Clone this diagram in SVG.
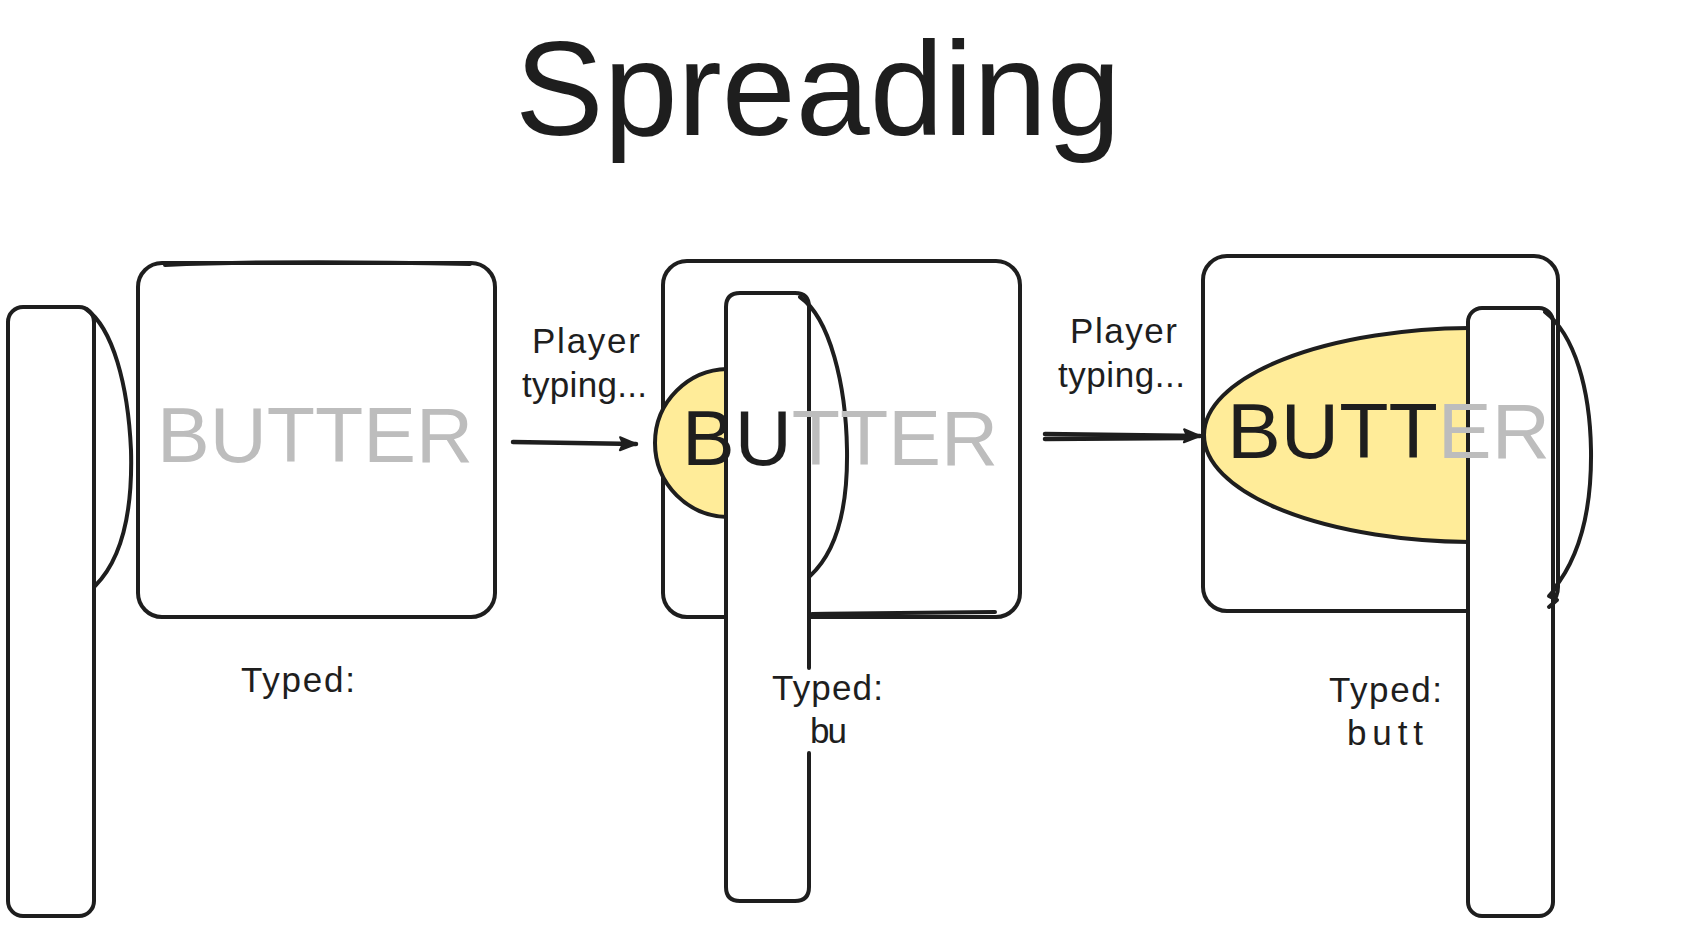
<svg xmlns="http://www.w3.org/2000/svg" width="1706" height="925" viewBox="0 0 1706 925">
  <defs>
    <style>
      .ink { fill: none; stroke: #1e1e1e; stroke-width: 4; stroke-linecap: round; stroke-linejoin: round; }
      .box { fill: #ffffff; stroke: #1e1e1e; stroke-width: 4; stroke-linejoin: round; }
      .paper { fill: #ffffff; stroke: none; }
      .spread { fill: #ffec99; stroke: #1e1e1e; stroke-width: 4; }
      .hand { font-family: "Liberation Sans", "DejaVu Sans", sans-serif; fill: #1e1e1e; }
      .word { font-family: "Liberation Sans", "DejaVu Sans", sans-serif; font-size: 77px; fill: #1e1e1e; }
      .grey { fill: #bdbdbd; }
      .lbl { font-size: 35px; }
      .arrow { fill: none; stroke: #1e1e1e; stroke-width: 4.5; stroke-linecap: round; }
    </style>
    <marker id="head" viewBox="0 0 20 16" markerWidth="20" markerHeight="16" refX="18" refY="8" orient="auto" markerUnits="userSpaceOnUse">
      <path d="M2,1.5 L18,8 L2,14.5 L5,8 Z" fill="#1e1e1e" stroke="#1e1e1e" stroke-width="2" stroke-linejoin="round"/>
    </marker>
    <clipPath id="clip2"><rect x="600" y="300" width="127" height="300"/></clipPath>
    <clipPath id="clip3"><rect x="1150" y="300" width="319" height="260"/></clipPath>
  </defs>

  <g id="title">
    <text class="hand" x="515" y="135" font-size="133" textLength="606" lengthAdjust="spacingAndGlyphs">Spreading</text>
  </g>

  <!-- Stage 1 -->
  <g id="knife-1">
    <rect class="box" x="8" y="307" width="86" height="609" rx="15"/>
    <path class="ink" d="M86,309 C113,328 128,385 131,450 C133,520 119,562 95,586"/>
  </g>
  <g id="square-1">
    <rect class="box" x="138" y="263" width="357" height="354" rx="24"/>
    <path class="ink" stroke-width="1.5" d="M165,265 C260,261 380,262 470,264"/>
  </g>
  <g id="word-1">
    <text class="word grey" x="157" y="462" textLength="316" lengthAdjust="spacingAndGlyphs">BUTTER</text>
  </g>
  <g id="typed-1">
    <text class="hand lbl" x="241" y="692" textLength="114" lengthAdjust="spacing">Typed:</text>
  </g>

  <!-- Stage 2 -->
  <g id="square-2">
    <rect class="box" x="663" y="261" width="357" height="356" rx="24"/>
    <path class="ink" stroke-width="1.5" d="M812,614 C880,613 950,613 995,612"/>
  </g>
  <g id="spread-2">
    <circle class="spread" cx="729" cy="443" r="74" clip-path="url(#clip2)"/>
  </g>
  <g id="knife-2">
    <rect class="paper" x="726" y="293" width="83" height="608" rx="14"/>
    <path class="ink" d="M809,668 V307 Q809,293 795,293 H740 Q726,293 726,307 V887 Q726,901 740,901 H795 Q809,901 809,887 V753"/>
    <path class="ink" d="M800,297 C830,318 846,385 847,450 C848,515 833,555 810,576"/>
  </g>
  <g id="word-2">
    <text class="word" x="682" y="465" textLength="316" lengthAdjust="spacingAndGlyphs">BU<tspan class="grey">TTER</tspan></text>
  </g>
  <g id="typed-2">
    <text class="hand lbl" x="772" y="700" textLength="111" lengthAdjust="spacing">Typed:</text>
    <text class="hand lbl" x="810" y="743" textLength="37" lengthAdjust="spacing">bu</text>
  </g>

  <!-- Stage 3 -->
  <g id="square-3">
    <rect class="box" x="1203" y="256" width="355" height="355" rx="24"/>
  </g>
  <g id="spread-3">
    <ellipse class="spread" cx="1475" cy="435" rx="271" ry="107" clip-path="url(#clip3)"/>
  </g>
  <g id="knife-3">
    <rect class="box" x="1468" y="308" width="85" height="608" rx="14"/>
    <path class="ink" d="M1545,312 C1575,335 1590,390 1591,450 C1592,520 1576,562 1553,590"/>
    <path class="ink" stroke-width="3" d="M1556,588 L1549,596 L1557,600 L1549,607"/>
  </g>
  <g id="word-3">
    <text class="word" x="1227" y="458" textLength="323" lengthAdjust="spacingAndGlyphs">BUTT<tspan class="grey">ER</tspan></text>
  </g>
  <g id="typed-3">
    <text class="hand lbl" x="1329" y="702" textLength="113" lengthAdjust="spacing">Typed:</text>
    <text class="hand lbl" x="1347" y="745" textLength="76" lengthAdjust="spacing">butt</text>
  </g>

  <g id="connectors">
    <path class="arrow" d="M513,442 L636,444" marker-end="url(#head)"/>
    <text class="hand lbl" x="532" y="353" textLength="108" lengthAdjust="spacing">Player</text>
    <text class="hand lbl" x="522" y="397" textLength="125" lengthAdjust="spacing">typing...</text>

    <path class="arrow" d="M1045,434 L1200,436" marker-end="url(#head)"/>
    <path class="arrow" stroke-width="2.5" d="M1045,439 L1190,438"/>
    <text class="hand lbl" x="1070" y="343" textLength="107" lengthAdjust="spacing">Player</text>
    <text class="hand lbl" x="1058" y="387" textLength="127" lengthAdjust="spacing">typing...</text>
  </g>
</svg>
